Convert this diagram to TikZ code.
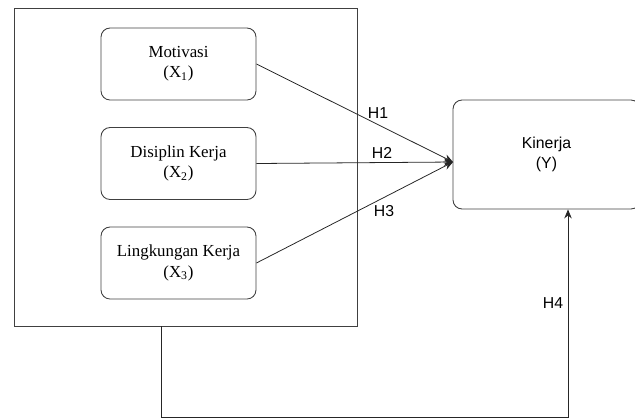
\documentclass[tikz,border=0pt]{standalone}
\usepackage{fontspec}
\setmainfont{Liberation Serif}
\newfontfamily\arial{Liberation Sans}
\usetikzlibrary{arrows.meta}

\begin{document}
\begin{tikzpicture}[x=0.02cm, y=-0.02cm,
  varbox/.style={shape=rectangle, rounded corners=0.18cm, draw=black!75, line width=0.5pt,
    minimum width=3.1cm, minimum height=1.44cm, align=center, font=\fontsize{9.6}{11.5}\selectfont},
  hyp/.style={font=\arial\fontsize{9}{11}\selectfont},
  link/.style={draw=black!85, line width=0.45pt, -{Stealth[length=1.8mm,width=1.5mm]}}]
\useasboundingbox (0,0) rectangle (635,417);

\node[draw=black!75, line width=0.5pt, minimum width=6.86cm, minimum height=6.36cm](outer) at (185.5,167) {};
\node[varbox](mot) at (178.5,64) {Motivasi\\(X\textsubscript{1})};
\node[varbox](dis) at (178.5,163.5) {Disiplin Kerja\\(X\textsubscript{2})};
\node[varbox](lin) at (178.5,263) {Lingkungan Kerja\\(X\textsubscript{3})};
\node[varbox, minimum width=3.74cm, minimum height=2.18cm, font=\arial\fontsize{9}{11}\selectfont](kin) at (546.5,154.5) {Kinerja\\(Y)};

\coordinate (kin in) at (453,162);
\coordinate (bl) at (161,417.8);
\coordinate (br) at (568,417.8);

\path[link] (mot.east) -- (kin in);
\path[link] (dis.east) -- (kin in);
\path[link] (lin.east) -- (kin in);
\path[link] (bl |- outer.south) -- (bl) -- (br) -- (br |- kin.south);

\node[hyp](h1) at (378,113) {H1};
\node[hyp](h2) at (382,153) {H2};
\node[hyp](h3) at (384,211) {H3};
\node[hyp](h4) at (553,303) {H4};
\end{tikzpicture}
\end{document}
